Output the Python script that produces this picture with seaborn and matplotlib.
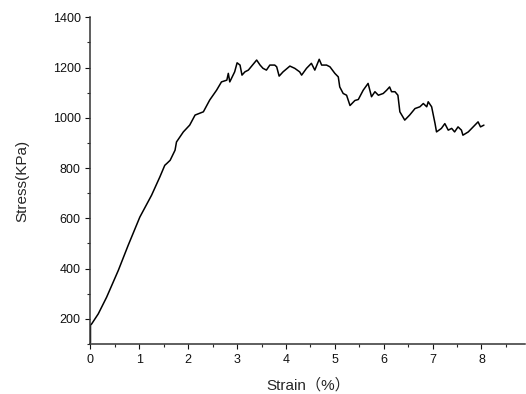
import matplotlib
matplotlib.use("Agg")
import matplotlib.pyplot as plt
import seaborn as sns
import pandas as pd
from matplotlib.ticker import MultipleLocator

# ======================
# Data
# ======================
strain = [
    0.0, 0.0, 0.025, 0.16, 0.33, 0.57, 0.77, 1.01, 1.25, 1.42, 1.52, 1.56,
    1.63, 1.73, 1.76, 1.90, 2.03, 2.14, 2.31, 2.44, 2.58, 2.68, 2.79, 2.82,
    2.85, 2.95, 3.00, 3.06, 3.10, 3.16, 3.23, 3.26, 3.40, 3.47, 3.53, 3.60,
    3.67, 3.77, 3.81, 3.86, 3.94, 4.08, 4.18, 4.28, 4.32, 4.42, 4.52, 4.59,
    4.68, 4.73, 4.83, 4.90, 5.00, 5.07, 5.10, 5.17, 5.24, 5.31, 5.41, 5.48,
    5.58, 5.68, 5.75, 5.82, 5.89, 5.99, 6.06, 6.12, 6.16, 6.23, 6.29, 6.33,
    6.43, 6.53, 6.64, 6.74, 6.81, 6.88, 6.91, 6.98, 7.05, 7.08, 7.18, 7.25,
    7.32, 7.39, 7.45, 7.52, 7.59, 7.62, 7.73, 7.83, 7.93, 7.98, 8.05,
]
stress = [
    105, 175, 180, 220, 286, 393, 492, 605, 692, 765, 811, 818,
    831, 871, 904, 944, 971, 1011, 1024, 1071, 1110, 1143, 1150, 1177,
    1143, 1183, 1219, 1210, 1170, 1183, 1190, 1197, 1230, 1210, 1197, 1190,
    1210, 1210, 1203, 1166, 1183, 1206, 1197, 1183, 1170, 1197, 1217, 1190,
    1233, 1210, 1210, 1203, 1177, 1163, 1123, 1097, 1090, 1049, 1069, 1073,
    1110, 1137, 1084, 1104, 1090, 1097, 1110, 1123, 1104, 1104, 1090, 1024,
    991, 1011, 1037, 1044, 1057, 1044, 1064, 1044, 977, 944, 958, 977,
    951, 958, 944, 964, 951, 931, 944, 964, 984, 964, 971,
]

x_ticks = [0, 1, 2, 3, 4, 5, 6, 7, 8]
y_ticks = [200, 400, 600, 800, 1000, 1200, 1400]

df = pd.DataFrame({"strain": strain, "stress": stress})

# ======================
# Style
# ======================
sns.set_style("ticks")
plt.rcParams["font.family"] = ["Liberation Sans", "Noto Sans CJK SC", "DejaVu Sans"]
plt.rcParams["xtick.direction"] = "out"
plt.rcParams["ytick.direction"] = "out"

fig = plt.figure(figsize=(5.26, 3.94), dpi=100)
ax = fig.add_axes([0.172, 0.127, 0.827, 0.829])

sns.lineplot(data=df, x="strain", y="stress", sort=False, estimator=None,
             color="black", linewidth=1.1, ax=ax)

ax.set_xlim(0, 8.9)
ax.set_ylim(100, 1400)
ax.set_xticks(x_ticks)
ax.set_yticks(y_ticks)
ax.xaxis.set_minor_locator(MultipleLocator(0.5))
ax.yaxis.set_minor_locator(MultipleLocator(100))
ax.tick_params(which="major", length=3.6, width=0.8, labelsize=9, colors="#111111")
ax.tick_params(which="minor", length=2.0, width=0.8)

ax.set_xlabel("Strain（%）", fontsize=11, labelpad=9)
ax.set_ylabel("Stress(KPa)", fontsize=11, labelpad=17)

sns.despine(ax=ax)
for s in ["left", "bottom"]:
    ax.spines[s].set_linewidth(1.1)
    ax.spines[s].set_color("#333333")

plt.savefig("out.png", dpi=100)
plt.close()
